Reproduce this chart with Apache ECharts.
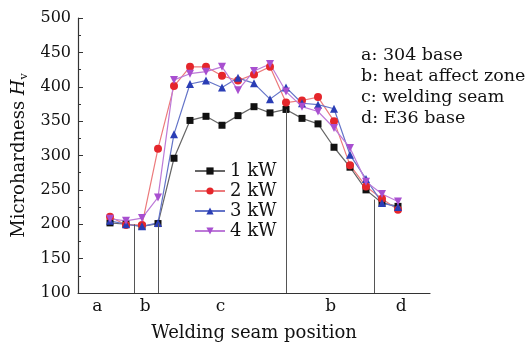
<!DOCTYPE html>
<html><head><meta charset="utf-8">
<script src="https://cdn.jsdelivr.net/npm/echarts@6/dist/echarts.min.js"></script>
<style>html,body{margin:0;padding:0;background:#fff}#c{width:530px;height:343px}</style>
</head><body><div id="c"></div>
<script>
// measurement positions (x-axis units), points are equally spaced
const positions = [2,3,4,5,6,7,8,9,10,11,12,13,14,15,16,17,18,19,20];
const kw1 = [202,200,197,201,296,351,357,344,358,371,362,367,354,346,312,283,250,231,226];
const kw2 = [211,199,199,310,401,429,429,416,409,418,429,377,380,385,350,286,255,237,221];
const kw3 = [205,200,197,202,331,404,409,399,413,405,382,399,376,374,368,301,266,231,225];
const kw4 = [208,205,209,239,410,419,422,429,395,423,433,393,371,364,340,311,262,244,233];
const seriesNames = ['1 kW','2 kW','3 kW','4 kW'];
// zone labels on x-axis
const zoneLabels = ['a','b','c','b','d'];
const zonePos = [1.2,4.2,8.9,15.8,20.2];
// zone boundary lines: x position and top value
const boundaryX = [3.5,5,13,18.5];
const boundaryTop = [200,201,367,236];
const notes = ['a: 304 base','b: heat affect zone','c: welding seam','d: E36 base'];
const yTicks = {min:100,max:500,interval:50};

const FONT = 'DejaVu Serif';
const chart = echarts.init(document.getElementById('c'));
function mk(name, data, color, lineColor, symbol){
  return {name, type:'line', data: positions.map((x,i)=>[x,data[i]]),
    symbol, symbolSize: 8, itemStyle:{color}, lineStyle:{color:lineColor,width:1.2},
    z: 3};
}
const s1 = mk(seriesNames[0], kw1, '#111', '#666', 'rect');
s1.symbolSize = 7;
s1.markLine = {silent:true, symbol:'none', label:{show:false},
  lineStyle:{color:'#555', width:1, type:'solid'},
  data: boundaryX.map((x,i)=>[{coord:[x,yTicks.min]},{coord:[x,boundaryTop[i]]}])};
const s2 = mk(seriesNames[1], kw2, '#e5262b', '#ec7a7c', 'circle');
const s3 = mk(seriesNames[2], kw3, '#2a3db5', '#6474c8', 'triangle');
const s4 = mk(seriesNames[3], kw4, '#a84fd0', '#bd7ad8', 'path://M0,0L2,0L1,1.73Z');

chart.setOption({
  animation:false,
  grid:{left:78, top:18, right:100, bottom:50, outerBoundsMode:'none', containLabel:false},
  xAxis:{type:'value', min:0, max:22,
    name:'Welding seam position', nameLocation:'middle', nameGap:31,
    nameTextStyle:{fontFamily:FONT, fontSize:18, color:'#111'},
    axisLine:{lineStyle:{color:'#333', width:1.2}},
    axisTick:{show:false}, splitLine:{show:false},
    axisLabel:{customValues: zonePos, formatter: v=>zoneLabels[zonePos.indexOf(v)],
      fontFamily:FONT, fontSize:17, color:'#111', margin:5}},
  yAxis:{type:'value', min:yTicks.min, max:yTicks.max, interval:yTicks.interval,
    name:'{a|Microhardness }{i|H}{s|v}', nameLocation:'middle', nameGap:48,
    nameTextStyle:{rich:{
      a:{fontFamily:FONT, fontSize:18, color:'#111'},
      i:{fontFamily:FONT, fontSize:18, fontStyle:'italic', color:'#111'},
      s:{fontFamily:FONT, fontSize:11, color:'#111', padding:[9,0,0,0]}}},
    axisLine:{show:true, lineStyle:{color:'#333', width:1.2}},
    axisTick:{show:true, inside:true, length:5, lineStyle:{color:'#333'}},
    minorTick:{show:true, splitNumber:2, length:3, lineStyle:{color:'#333'}},
    splitLine:{show:false},
    axisLabel:{fontFamily:FONT, fontSize:16, color:'#111', margin:7}},
  legend:{data:seriesNames, orient:'vertical', left:189, top:157, itemGap:2,
    itemWidth:30, itemHeight:9,
    textStyle:{fontFamily:FONT, fontSize:18, color:'#111'}},
  graphic: notes.map((t,i)=>({type:'text', left:361, top:46+i*21,
    style:{text:t, font:'17.5px "DejaVu Serif"', fill:'#111'}})),
  series:[s1,s2,s3,s4]
});
</script></body></html>
